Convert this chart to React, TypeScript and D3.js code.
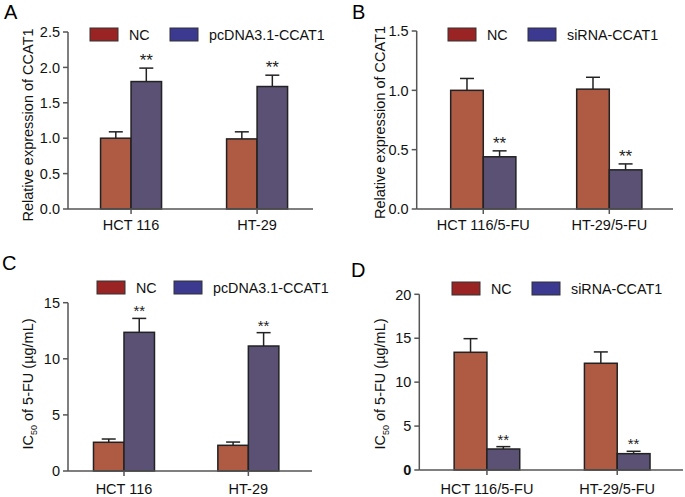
import * as d3 from 'd3';
import React from 'react';

const groupsParental = ['HCT 116', 'HT-29'];
const groupsResistant = ['HCT 116/5-FU', 'HT-29/5-FU'];
const seriesOver = ['NC', 'pcDNA3.1-CCAT1'];
const seriesKnock = ['NC', 'siRNA-CCAT1'];

// A: relative CCAT1 expression after overexpression
const aNC = [1.0, 0.99];
const aNCErr = [0.09, 0.1];
const aPC = [1.8, 1.73];
const aPCErr = [0.19, 0.16];

// B: relative CCAT1 expression after knockdown
const bNC = [1.0, 1.01];
const bNCErr = [0.1, 0.1];
const bSi = [0.44, 0.33];
const bSiErr = [0.05, 0.05];

// C: IC50 of 5-FU after overexpression
const cNC = [2.56, 2.29];
const cNCErr = [0.29, 0.29];
const cPC = [12.36, 11.14];
const cPCErr = [1.24, 1.19];

// D: IC50 of 5-FU after knockdown
const dNC = [13.4, 12.15];
const dNCErr = [1.55, 1.29];
const dSi = [2.39, 1.86];
const dSiErr = [0.27, 0.27];

const barFill = ['#AF5A42', '#5A5174'];
const swatchFill = ['#9A2424', '#3B3990'];
const axisColor = '#555';
const font = 'Liberation Sans, Arial, Helvetica, sans-serif';

type Layout = {
  x0: number;
  x1: number;
  yTop: number;
  yBottom: number;
  pad: number;
  align: number;
  barW: number;
  legendX: number[];
  legendY: number;
  letterX: number;
  letterY: number;
  labelX: number;
  labelY: number;
  catY: number;
  starSize: number;
};

type PanelProps = {
  letter: string;
  groups: string[];
  series: string[];
  values: number[][];
  errors: number[][];
  yMax: number;
  tickStep: number;
  fmt: string;
  yLabel: React.ReactNode;
  boldZero?: boolean;
  layout: Layout;
};

function Panel({ letter, groups, series, values, errors, yMax, tickStep, fmt, yLabel, boldZero, layout: L }: PanelProps) {
  const x = d3.scalePoint<string>().domain(groups).range([L.x0, L.x1]).padding(L.pad).align(L.align);
  const xs = d3.scaleBand<string>().domain(series).range([-L.barW, L.barW]);
  const y = d3.scaleLinear().domain([0, yMax]).range([L.yBottom, L.yTop]);
  const ticks = d3.range(0, yMax + tickStep / 2, tickStep);
  const f = d3.format(fmt);

  return (
    <g fontFamily={font}>
      <text x={L.letterX} y={L.letterY} fontSize={20}>{letter}</text>
      {/* legend */}
      {series.map((s, i) => (
        <g key={s}>
          <rect x={L.legendX[i]} y={L.legendY} width={28} height={13} fill={swatchFill[i]} stroke="#333" strokeWidth={1} />
          <text x={L.legendX[i] + 39} y={L.legendY + 12} fontSize={14.3} fill="#111">{s}</text>
        </g>
      ))}
      {/* bars */}
      {series.map((s, si) =>
        groups.map((g, gi) => {
          const v = values[si][gi];
          const e = errors[si][gi];
          const bx = (x(g) ?? 0) + (xs(s) ?? 0);
          const cx = bx + xs.bandwidth() / 2;
          return (
            <g key={s + g}>
              <line x1={cx} x2={cx} y1={y(v)} y2={y(v + e)} stroke="#222" strokeWidth={1.5} />
              <line x1={cx - 7} x2={cx + 7} y1={y(v + e)} y2={y(v + e)} stroke="#222" strokeWidth={1.5} />
              <rect x={bx} y={y(v)} width={xs.bandwidth()} height={y(0) - y(v)} fill={barFill[si]} stroke="#222" strokeWidth={1.5} />
              {si === 1 && (
                <text x={cx} y={y(v + e) - 2} fontSize={L.starSize} textAnchor="middle" fill="#222">**</text>
              )}
            </g>
          );
        })
      )}
      {/* y axis */}
      <line x1={L.x0} x2={L.x0} y1={L.yTop} y2={L.yBottom} stroke={axisColor} strokeWidth={1.5} />
      {ticks.map((t) => (
        <g key={t}>
          <line x1={L.x0 - 5} x2={L.x0} y1={y(t)} y2={y(t)} stroke={axisColor} strokeWidth={1.5} />
          <text
            x={L.x0 - 8}
            y={y(t)}
            dy="0.36em"
            textAnchor="end"
            fontSize={14.5}
            fontWeight={boldZero && t === 0 ? 'bold' : 'normal'}
            fill="#111"
          >
            {f(t)}
          </text>
        </g>
      ))}
      {/* x axis */}
      <line x1={L.x0} x2={L.x1} y1={L.yBottom} y2={L.yBottom} stroke={axisColor} strokeWidth={1.5} />
      {groups.map((g) => (
        <g key={g}>
          <line x1={x(g)} x2={x(g)} y1={L.yBottom} y2={L.yBottom + 5} stroke={axisColor} strokeWidth={1.5} />
          <text x={x(g)} y={L.catY} textAnchor="middle" fontSize={14.5} fill="#111">{g}</text>
        </g>
      ))}
      <text
        transform={`translate(${L.labelX},${L.labelY}) rotate(-90)`}
        textAnchor="middle"
        fontSize={14.5}
        fill="#111"
      >
        {yLabel}
      </text>
    </g>
  );
}

const icLabel = (
  <>
    IC<tspan fontSize={9} dy={4}>50</tspan>
    <tspan dy={-4}> of 5-FU (µg/mL)</tspan>
  </>
);

export default function App() {
  return (
    <svg width={685} height={497} style={{ position: 'absolute', left: 0, top: 0, background: '#fff' }}>
      <Panel
        letter="A"
        groups={groupsParental}
        series={seriesOver}
        values={[aNC, aPC]}
        errors={[aNCErr, aPCErr]}
        yMax={2.5}
        tickStep={0.5}
        fmt=".1f"
        yLabel="Relative expression of CCAT1"
        layout={{ x0: 68, x1: 313, yTop: 32, yBottom: 209, pad: 0.472, align: 0.53, barW: 30.5, legendX: [90, 170], legendY: 28, letterX: 4, letterY: 19, labelX: 33, labelY: 125, catY: 230, starSize: 17 }}
      />
      <Panel
        letter="B"
        groups={groupsResistant}
        series={seriesKnock}
        values={[bNC, bSi]}
        errors={[bNCErr, bSiErr]}
        yMax={1.5}
        tickStep={0.5}
        fmt=".1f"
        yLabel="Relative expression of CCAT1"
        layout={{ x0: 416.7, x1: 673, yTop: 31, yBottom: 209, pad: 0.517, align: 0.511, barW: 32.6, legendX: [448, 528], legendY: 28, letterX: 352, letterY: 19, labelX: 385, labelY: 122.5, catY: 230, starSize: 17 }}
      />
      <Panel
        letter="C"
        groups={groupsParental}
        series={seriesOver}
        values={[cNC, cPC]}
        errors={[cNCErr, cPCErr]}
        yMax={15}
        tickStep={5}
        fmt="d"
        yLabel={icLabel}
        layout={{ x0: 68, x1: 312, yTop: 302.7, yBottom: 471, pad: 0.481, align: 0.468, barW: 30.5, legendX: [97, 174], legendY: 281, letterX: 2, letterY: 270, labelX: 33, labelY: 384, catY: 494, starSize: 15 }}
      />
      <Panel
        letter="D"
        groups={groupsResistant}
        series={seriesKnock}
        values={[dNC, dSi]}
        errors={[dNCErr, dSiErr]}
        yMax={20}
        tickStep={5}
        fmt="d"
        yLabel={icLabel}
        boldZero
        layout={{ x0: 419.3, x1: 683, yTop: 294.3, yBottom: 470, pad: 0.512, align: 0.507, barW: 32.8, legendX: [452, 532], legendY: 282, letterX: 351, letterY: 277, labelX: 385, labelY: 384, catY: 494, starSize: 15 }}
      />
    </svg>
  );
}
